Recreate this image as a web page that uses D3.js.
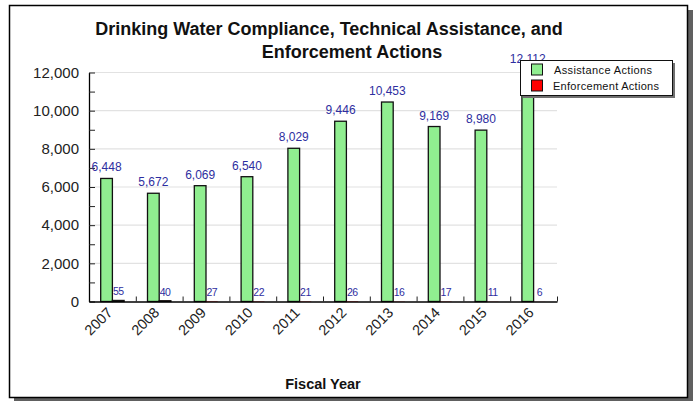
<!DOCTYPE html>
<html><head><meta charset="utf-8">
<script src="https://cdn.jsdelivr.net/npm/d3@7"></script>
<style>html,body{margin:0;padding:0;background:#fff;}svg{display:block;font-family:"Liberation Sans",Arial,sans-serif;}</style>
</head><body>
<svg id="c" width="694" height="401"></svg>
<script>
const years = ["2007","2008","2009","2010","2011","2012","2013","2014","2015","2016"];
const assistance = [6448,5672,6069,6540,8029,9446,10453,9169,8980,12112];
const enforcement = [55,40,27,22,21,26,16,17,11,6];
const seriesNames = ["Assistance Actions","Enforcement Actions"];
const seriesColors = ["#90ee90","#ff0000"];
const yTicks = [0,2000,4000,6000,8000,10000,12000];
const titleLines = ["Drinking Water Compliance, Technical Assistance, and","Enforcement Actions"];
const xTitle = "Fiscal Year";

const svg = d3.select("#c");
// shadow + frame
svg.append("rect").attr("x",14).attr("y",10).attr("width",679).attr("height",391).attr("fill","#606060");
svg.append("rect").attr("x",9.5).attr("y",5.5).attr("width",678).attr("height",392).attr("fill","#fff").attr("stroke","#000").attr("stroke-width",1.5);

const L=89, R=557, T=72.5, B=301.5;
const x = d3.scaleBand().domain(years).range([L,R]).paddingInner(0).paddingOuter(0);
const xs = d3.scaleBand().domain([0,1]).range([0,x.bandwidth()]).paddingOuter(1).paddingInner(0);
const y = d3.scaleLinear().domain([0,12000]).range([B,T]);

// gridlines
svg.append("g").selectAll("line").data(yTicks.filter(d=>d>0)).join("line")
  .attr("x1",L).attr("x2",R).attr("y1",d=>y(d)).attr("y2",d=>y(d))
  .attr("stroke","#e2e2e2").attr("stroke-width",1.2);

// y axis
const ya = svg.append("g").attr("transform",`translate(${L},0)`)
  .call(d3.axisLeft(y).tickValues(d3.range(0,12001,1000)).tickSizeInner(-6).tickSizeOuter(0).tickPadding(10)
    .tickFormat(d=> d%2000===0 ? d3.format(",")(d) : ""));
ya.selectAll("text").attr("font-size","15px").attr("fill","#222").attr("font-family","Liberation Sans, Arial, sans-serif");
ya.select(".domain").attr("stroke","#000").attr("stroke-width",1.3);
ya.selectAll(".tick line").attr("stroke","#222");

// bars
const data = years.map((yr,i)=>({yr, v:[assistance[i], enforcement[i]]}));
const g = svg.append("g");
data.forEach(d=>{
  d.v.forEach((v,k)=>{
    const h = B-y(v);
    g.append("rect").attr("x",x(d.yr)+xs(k)).attr("y",y(v)).attr("width",xs.bandwidth()).attr("height",h)
      .attr("fill",seriesColors[k]).attr("stroke", h>=0.6 ? "#111" : "none").attr("stroke-width",1.3);
  });
});

// x axis
const xb = d3.scaleLinear().domain([0,years.length]).range([L,R]);
const xa = svg.append("g").attr("transform",`translate(0,${B})`)
  .call(d3.axisBottom(xb).tickValues(d3.range(1,years.length+1)).tickSizeInner(-5).tickSizeOuter(0).tickFormat(""));
xa.select(".domain").attr("stroke","#000").attr("stroke-width",1.5);
xa.selectAll(".tick line").attr("stroke","#222");

// x labels
svg.append("g").selectAll("text").data(years).join("text")
  .attr("transform",d=>`translate(${x(d)+x.bandwidth()/2+1},${B+12}) rotate(-45)`)
  .attr("text-anchor","end").attr("font-size","14.5px").attr("fill","#222").text(d=>d);

// value labels
const fmt = d3.format(",");
data.forEach(d=>{
  svg.append("text").attr("x",x(d.yr)+xs(0)+xs.bandwidth()/2).attr("y",y(d.v[0])-7)
    .attr("text-anchor","middle").attr("font-size","12px").attr("fill","#2e2ea0").text(fmt(d.v[0]));
  svg.append("text").attr("x",x(d.yr)+xs(1)+xs.bandwidth()/2).attr("y",y(d.v[1])-5)
    .attr("text-anchor","middle").attr("font-size","10.5px").attr("fill","#2e2ea0").attr("letter-spacing","-0.5").text(fmt(d.v[1]));
});

// title
svg.append("text").attr("x",329).attr("y",34.5).attr("text-anchor","middle").attr("font-size","18px").attr("font-weight","bold").attr("fill","#111").text(titleLines[0]);
svg.append("text").attr("x",352).attr("y",58).attr("text-anchor","middle").attr("font-size","18px").attr("font-weight","bold").attr("fill","#111").text(titleLines[1]);

// x title
svg.append("text").attr("x",(L+R)/2).attr("y",389).attr("text-anchor","middle").attr("font-size","14.5px").attr("font-weight","bold").attr("fill","#111").text(xTitle);

// legend
const lg = svg.append("g").attr("transform","translate(520,60)");
lg.append("rect").attr("x",3).attr("y",3).attr("width",152).attr("height",35).attr("fill","#707070");
lg.append("rect").attr("x",0.5).attr("y",0.5).attr("width",152).attr("height",35).attr("fill","#fff").attr("stroke","#111").attr("stroke-width",1);
seriesNames.forEach((n,i)=>{
  lg.append("rect").attr("x",11.5).attr("y",4+i*16).attr("width",11).attr("height",11).attr("fill",seriesColors[i]).attr("stroke","#111");
  lg.append("text").attr("x",i===0?34:33).attr("y",14+i*15.5).attr("font-size","11px").attr("fill","#111")
    .attr("textLength",i===0?98:106).attr("lengthAdjust","spacing").text(n);
});
</script>
</body></html>
